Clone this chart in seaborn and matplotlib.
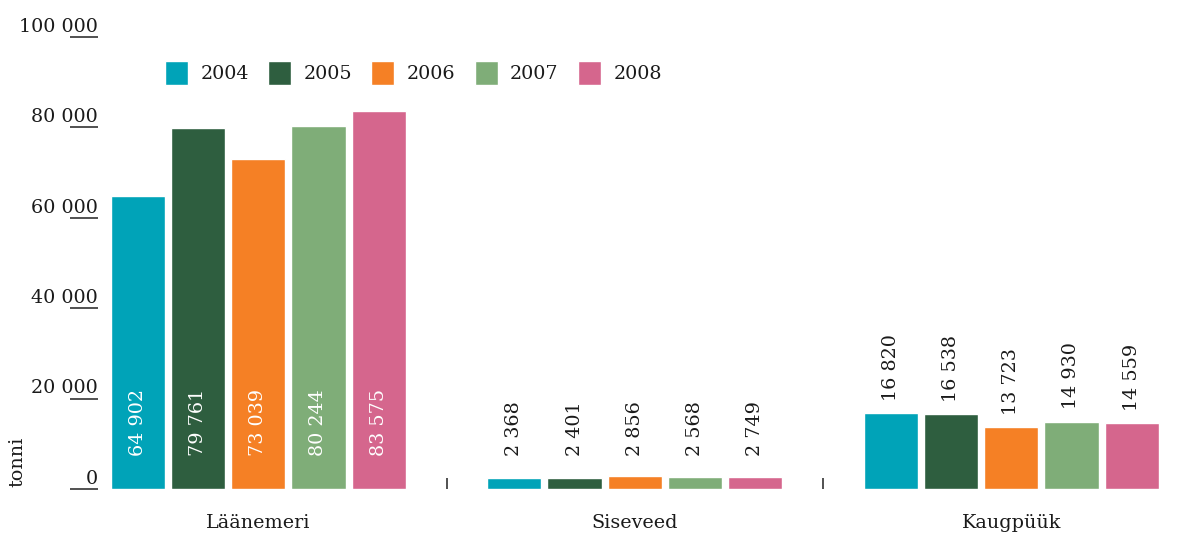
import matplotlib
matplotlib.use("Agg")
import matplotlib.pyplot as plt
import matplotlib.transforms as mtransforms
import seaborn as sns
import pandas as pd

categories = ["Läänemeri", "Siseveed", "Kaugpüük"]
years = ["2004", "2005", "2006", "2007", "2008"]
v2004 = [64902, 2368, 16820]
v2005 = [79761, 2401, 16538]
v2006 = [73039, 2856, 13723]
v2007 = [80244, 2568, 14930]
v2008 = [83575, 2749, 14559]
value_labels = [["64 902", "2 368", "16 820"],
                ["79 761", "2 401", "16 538"],
                ["73 039", "2 856", "13 723"],
                ["80 244", "2 568", "14 930"],
                ["83 575", "2 749", "14 559"]]
yticks = [0, 20000, 40000, 60000, 80000, 100000]
ytick_labels = ["0", "20 000", "40 000", "60 000", "80 000", "100 000"]
colors = ["#00A3B8", "#2E5E3F", "#F58025", "#7FAD78", "#D5668D"]
ylabel = "tonni"

series = [v2004, v2005, v2006, v2007, v2008]
rows = []
for y, vals in zip(years, series):
    for c, v in zip(categories, vals):
        rows.append({"cat": c, "year": y, "value": v})
df = pd.DataFrame(rows)

sns.set_theme(style="white")
plt.rcParams["font.family"] = ["DejaVu Serif"]
FS = 13.8
TXT = "#1a1a1a"

W, H = 1193, 533
fig = plt.figure(figsize=(W / 100, H / 100), dpi=100)
left_px, right_px = 70, 1193
bottom_px, top_px = 489, 37
ax = fig.add_axes([left_px / W, (H - bottom_px) / H,
                   (right_px - left_px) / W, (bottom_px - top_px) / H])

sns.barplot(data=df, x="cat", y="value", hue="year", order=categories,
            hue_order=years, palette=colors, width=0.8, gap=0.1,
            saturation=1, ax=ax, legend=True)

ax.set_xlim(-0.5, -0.5 + (right_px - left_px) / 376.5)
ax.set_ylim(0, 100000)
for s in ax.spines.values():
    s.set_visible(False)

# y ticks: short horizontal lines inside, labels above them
ax.set_yticks(yticks)
ax.set_yticklabels([])
ax.tick_params(axis="y", direction="in", length=20, width=1.1, color="#222222", left=True)
trans = mtransforms.blended_transform_factory(ax.transAxes, ax.transData)
xfrac = (98 - left_px) / (right_px - left_px)
for v, lab in zip(yticks, ytick_labels):
    ax.text(xfrac, v + 250, lab, transform=trans, ha="right", va="bottom",
            fontsize=FS, color=TXT)

# x ticks: category labels + small separators between groups
ax.set_xticks([0, 1, 2])
ax.set_xticklabels(categories, fontsize=FS, color=TXT)
ax.tick_params(axis="x", which="major", length=0, pad=18)
ax.set_xticks([0.5, 1.5], minor=True)
ax.tick_params(axis="x", which="minor", direction="in", length=8, width=1.1,
               color="#222222", bottom=True)
ax.set_xlabel("")
ax.set_ylabel("")

ax.text(-0.047, 0.004, ylabel, transform=ax.transAxes, rotation=90,
        ha="center", va="bottom", fontsize=FS, color=TXT)

# value labels
for ci, cont in enumerate(ax.containers):
    for pi, patch in enumerate(cont.patches):
        v = patch.get_height()
        x = patch.get_x() + patch.get_width() / 2
        if v > 20000:
            ypos, col = 7400, "white"
        else:
            ypos, col = max(v + 2700, 7400), TXT
        ax.text(x, ypos, value_labels[ci][pi], rotation=90, ha="center",
                va="bottom", fontsize=FS, color=col)

leg = ax.legend(loc="center left", bbox_to_anchor=(165 / W, (H - 73) / H),
                bbox_transform=fig.transFigure, ncol=5, frameon=False,
                fontsize=FS, handlelength=1.2, handleheight=1.5,
                handletextpad=0.65, columnspacing=1.0, borderaxespad=0,
                borderpad=0)
for t in leg.get_texts():
    t.set_color(TXT)

fig.savefig("out.png", dpi=100)
